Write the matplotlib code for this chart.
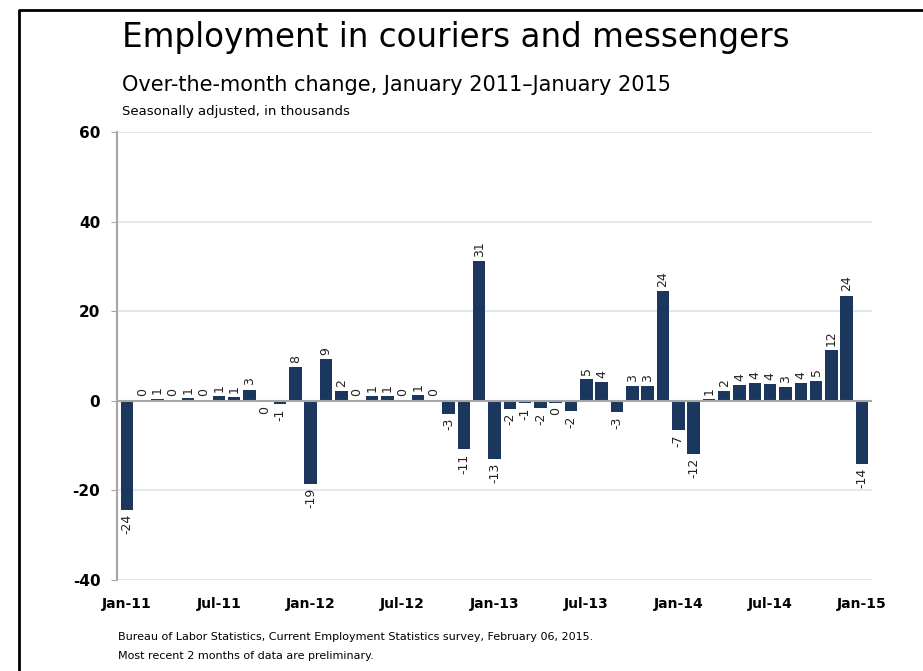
import matplotlib.pyplot as plt
from matplotlib.lines import Line2D

# over-the-month change, thousands (Jan-2011 .. Jan-2015)
months = [
    "Jan-11", "Feb-11", "Mar-11", "Apr-11", "May-11", "Jun-11", "Jul-11", "Aug-11",
    "Sep-11", "Oct-11", "Nov-11", "Dec-11", "Jan-12", "Feb-12", "Mar-12", "Apr-12",
    "May-12", "Jun-12", "Jul-12", "Aug-12", "Sep-12", "Oct-12", "Nov-12", "Dec-12",
    "Jan-13", "Feb-13", "Mar-13", "Apr-13", "May-13", "Jun-13", "Jul-13", "Aug-13",
    "Sep-13", "Oct-13", "Nov-13", "Dec-13", "Jan-14", "Feb-14", "Mar-14", "Apr-14",
    "May-14", "Jun-14", "Jul-14", "Aug-14", "Sep-14", "Oct-14", "Nov-14", "Dec-14",
    "Jan-15",
]
changes = [
    -24.3, 0.1, 0.5, 0.2, 0.6, 0.05, 1.0, 0.9, 2.5, -0.3, -0.8, 7.5, -18.5, 9.4,
    2.2, 0.05, 1.1, 1.1, 0.2, 1.2, 0.05, -2.9, -10.8, 31.2, -13.0, -1.8, -0.6,
    -1.6, -0.4, -2.3, 4.9, 4.2, -2.6, 3.2, 3.2, 24.4, -6.5, -11.8, 0.4, 2.1, 3.6,
    3.9, 3.7, 3.0, 3.9, 4.5, 11.4, 23.5, -14.0,
]
labels = [
    -24, 0, 1, 0, 1, 0, 1, 1, 3, 0, -1, 8, -19, 9, 2, 0, 1, 1, 0, 1, 0, -3, -11,
    31, -13, -2, -1, -2, 0, -2, 5, 4, -3, 3, 3, 24, -7, -12, 1, 2, 4, 4, 4, 3, 4,
    5, 12, 24, -14,
]
y_ticks = [-40, -20, 0, 20, 40, 60]

bar_color = "#1c375e"
grid_color = "#dce4ee"
axis_gray = "#a6a6a6"

fig = plt.figure(figsize=(9.23, 6.71), dpi=100)
ax = fig.add_axes([117 / 923, 1 - 580 / 671, (872 - 117) / 923, (580 - 132) / 671])

x = list(range(len(changes)))
ax.bar(x, changes, width=0.82, color=bar_color, zorder=3)

for xi, v, lab in zip(x, changes, labels):
    if v >= 0:
        ax.annotate(str(lab), (xi, v), xytext=(0, 3), textcoords="offset points",
                    rotation=90, ha="center", va="bottom", fontsize=9, color="#222222")
    else:
        ax.annotate(str(lab), (xi, v), xytext=(0, -3), textcoords="offset points",
                    rotation=90, ha="center", va="top", fontsize=9, color="#222222")

ax.set_xlim(-0.65, 48.65)
ax.set_ylim(-40, 60)
ax.set_yticks(y_ticks)
ax.set_yticklabels([str(t) for t in y_ticks], fontsize=11, fontweight="bold")
ax.set_xticks(x[::6])
ax.set_xticklabels(months[::6], fontsize=10, fontweight="bold")
ax.tick_params(axis="x", length=0, pad=12)
ax.tick_params(axis="y", length=4, color=axis_gray, pad=8)

for t in y_ticks:
    if t != 0:
        ax.axhline(t, color=grid_color, linewidth=1.2, zorder=1)
ax.axhline(0, color=axis_gray, linewidth=1.5, zorder=4)

for side in ["top", "right", "bottom"]:
    ax.spines[side].set_visible(False)
ax.spines["left"].set_color(axis_gray)
ax.spines["left"].set_linewidth(1.5)

fig.text(122 / 923, 1 - 38 / 671, "Employment in couriers and messengers",
         fontsize=23.5, va="center", ha="left")
fig.text(122 / 923, 1 - 85 / 671, "Over-the-month change, January 2011\u2013January 2015",
         fontsize=15, va="center", ha="left")
fig.text(122 / 923, 1 - 112 / 671, "Seasonally adjusted, in thousands",
         fontsize=9.5, va="center", ha="left")
fig.text(118 / 923, 1 - 637 / 671,
         "Bureau of Labor Statistics, Current Employment Statistics survey, February 06, 2015.",
         fontsize=8, va="center", ha="left")
fig.text(118 / 923, 1 - 656 / 671, "Most recent 2 months of data are preliminary.",
         fontsize=8, va="center", ha="left")

# frame around the slide
fig.add_artist(Line2D([19 / 923, 19 / 923, 1.0], [0.0, 1 - 10 / 671, 1 - 10 / 671],
                      transform=fig.transFigure, color="black", linewidth=2))

fig.savefig("out.png", dpi=100)
